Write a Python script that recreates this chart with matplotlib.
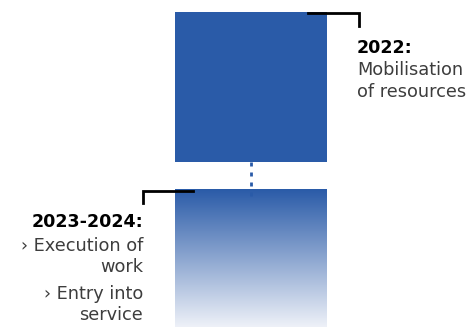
import matplotlib
matplotlib.use("Agg")
import matplotlib.pyplot as plt
import numpy as np
from matplotlib.colors import LinearSegmentedColormap

phases = ["2022:", "2023-2024:"]
phase_notes = [
    ["Mobilisation", "of resources"],
    ["› Execution of", "work", "› Entry into", "service"],
]

blue = "#2a5ba8"
fade = "#eef1f8"

fig = plt.figure(figsize=(4.7, 3.27), dpi=100)
ax = fig.add_axes([0, 0, 1, 1])
ax.set_xlim(0, 470)
ax.set_ylim(327, 0)
ax.axis("off")

# top phase: solid block
ax.bar(251, 150, width=152, bottom=12, color=blue, zorder=2)

# bottom phase: gradient block
grad = np.linspace(0, 1, 256).reshape(-1, 1)
cmap = LinearSegmentedColormap.from_list("fade", [blue, fade])
ax.imshow(grad, cmap=cmap, aspect="auto", extent=(175, 327, 327, 189), zorder=2)

# dashed connector
ax.plot([250.5, 250.5], [162, 196], color=blue, lw=2, ls=(0, (1.44, 2.16)), zorder=3)

# brackets
ax.plot([308, 359, 359], [13, 13, 26], color="black", lw=2, solid_joinstyle="miter", zorder=4)
ax.plot([193, 143, 143], [190.5, 190.5, 203], color="black", lw=2, solid_joinstyle="miter", zorder=4)

font = "DejaVu Sans"
ax.text(357, 53, phases[0], fontsize=12.6, fontweight="bold", family=font,
        ha="left", va="baseline", color="black")
for i, line in enumerate(phase_notes[0]):
    ax.text(357, 75 + 22 * i, line, fontsize=12.8, family=font,
            ha="left", va="baseline", color="#3d3d3d")

ax.text(143, 227, phases[1], fontsize=12.6, fontweight="bold", family=font,
        ha="right", va="baseline", color="black")
for y, line in zip([251, 272, 299, 320], phase_notes[1]):
    ax.text(143, y, line, fontsize=12.8, family=font,
            ha="right", va="baseline", color="#3d3d3d")

fig.savefig("out.png", dpi=100)
